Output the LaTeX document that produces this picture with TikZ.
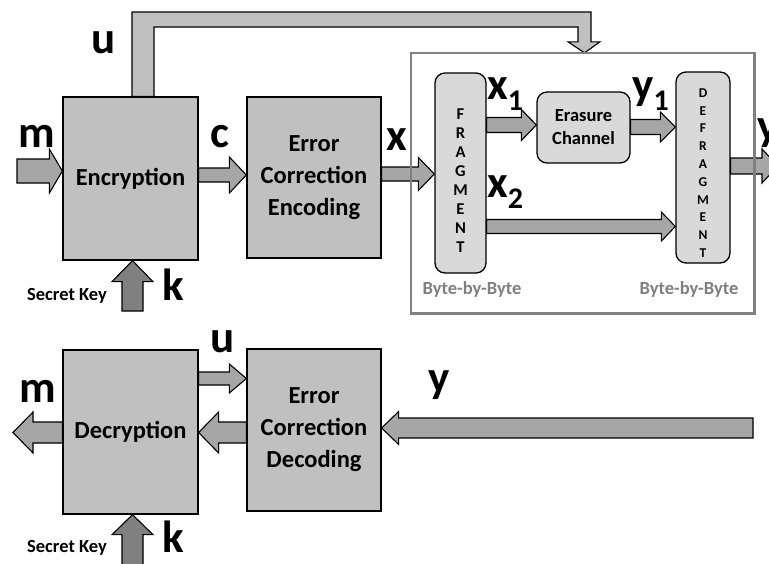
\documentclass[tikz,border=0pt]{standalone}
\usepackage{fontspec}
\setmainfont{Carlito}
\usetikzlibrary{calc}
\definecolor{boxfill}{RGB}{192,192,192}
\definecolor{arrfill}{RGB}{166,166,166}
\definecolor{keyfill}{RGB}{128,128,128}
\definecolor{rndfill}{RGB}{217,217,217}
\definecolor{frm}{RGB}{128,128,128}
% horizontal block arrow: style, from, to, y, stem half, head half, signed head length
\newcommand\harr[7]{%
 \draw[#1] let \p1=(#2), \p2=(#3) in
 (\x1,{-#4pt+#5pt}) -- ({\x2-(#7pt)},{-#4pt+#5pt}) -- ({\x2-(#7pt)},{-#4pt+#6pt}) -- (\x2,{-#4pt})
 -- ({\x2-(#7pt)},{-#4pt-#6pt}) -- ({\x2-(#7pt)},{-#4pt-#5pt}) -- (\x1,{-#4pt-#5pt}) -- cycle;}
% vertical block arrow: style, from, to, x, stem half, head half, signed head length (positive = up)
\newcommand\varr[7]{%
 \draw[#1] let \p1=(#2), \p2=(#3) in
 ({#4pt+#5pt},\y1) -- ({#4pt+#5pt},{\y2-(#7pt)}) -- ({#4pt+#6pt},{\y2-(#7pt)}) -- (#4pt,\y2)
 -- ({#4pt-#6pt},{\y2-(#7pt)}) -- ({#4pt-#5pt},{\y2-(#7pt)}) -- ({#4pt-#5pt},\y1) -- cycle;}
\newcommand\mysub[1]{{\fontsize{30}{30}\selectfont\raisebox{-11pt}{#1}}}
\begin{document}
\begin{tikzpicture}[x=1pt,y=-1pt,
  bigbox/.style={draw, line width=1.3pt, fill=boxfill, inner sep=0pt, align=center,
    font=\fontsize{24.5}{32}\selectfont\bfseries},
  rbox/.style={draw, line width=1.3pt, fill=rndfill, rounded corners=10pt, inner sep=0pt},
  blk/.style={draw, line width=1.1pt, fill=arrfill, line join=miter},
  keyarr/.style={draw, line width=1.1pt, fill=keyfill, line join=miter},
  pipe/.style={draw, line width=1.1pt, fill=boxfill, line join=miter},
  lbl/.style={font=\fontsize{45}{45}\selectfont\bfseries, inner sep=0pt, anchor=base},
  lblw/.style={font=\fontsize{45}{45}\selectfont\bfseries, inner sep=0pt, anchor=base west},
  sktxt/.style={font=\fontsize{18.5}{20}\selectfont\bfseries, inner sep=0pt, anchor=base},
  bbtxt/.style={font=\fontsize{18.5}{20}\selectfont\bfseries, text=frm, inner sep=0pt, anchor=base},
  stack/.style={align=center, inner sep=0pt}
]
\clip (0,0) rectangle (769,563);
\fill[white] (0,0) rectangle (769,563);

% main blocks
\node[bigbox, minimum width=135pt, minimum height=163pt] (enc) at (130.5,178.5) {Encryption};
\node[bigbox, minimum width=134pt, minimum height=161pt] (ece) at (314,177.5) {Error\\Correction\\Encoding};
\node[bigbox, minimum width=135pt, minimum height=164pt] (dec) at (130.5,432) {Decryption};
\node[bigbox, minimum width=134pt, minimum height=162pt] (ecd) at (314,430) {Error\\Correction\\Decoding};

% frame (outline drawn last)
\node[minimum width=343pt, minimum height=260pt, inner sep=0pt] (frame) at (582.5,183) {};

% rounded blocks
\node[rbox, minimum width=51pt, minimum height=200pt] (frag) at (460.5,173) {};
\node[rbox, minimum width=54pt, minimum height=191pt] (defrag) at (703,167.5) {};
\node[rbox, minimum width=93pt, minimum height=71pt, align=center,
  font=\fontsize{18.5}{23}\selectfont\bfseries] (erasure) at (583.5,127.5) {Erasure\\Channel};
\node[stack, font=\fontsize{16.5}{19}\selectfont\bfseries] (fragt) at (460.5,180.5) {F\\R\\A\\G\\M\\E\\N\\T};
\node[stack, font=\fontsize{13.5}{17.8}\selectfont\bfseries] (defragt) at (703,173) {D\\E\\F\\R\\A\\G\\M\\E\\N\\T};

% u pipe from Encryption to frame
\draw[pipe] let \p1=(enc.north), \p2=(frame.north) in
  (132pt,\y1) -- (132pt,-12pt) -- (591pt,-12pt) -- (591pt,{\y2+11pt}) -- (600pt,{\y2+11pt})
  -- (584.5pt,\y2) -- (568pt,{\y2+11pt}) -- (578pt,{\y2+11pt}) -- (578pt,-27pt)
  -- (154pt,-27pt) -- (154pt,\y1) -- cycle;

% arrows, top row
\coordinate (mstart) at (17,171);
\harr{blk}{mstart}{enc.west}{171}{12}{22}{13}
\harr{blk}{enc.east}{ece.west}{175}{7}{18}{17}
\harr{blk}{ece.east}{frag.west}{174}{7}{16.5}{16}
\harr{blk}{frag.east}{erasure.west}{125}{7.5}{15.5}{15}
\harr{blk}{erasure.east}{defrag.west}{127}{7.5}{15}{15}
\harr{blk}{frag.east}{defrag.west}{226.5}{7}{14.5}{14}
\coordinate (yout) at (778,166);
\harr{blk}{defrag.east}{yout}{166}{8}{17}{16}

% arrows, bottom row
\harr{blk}{dec.east}{ecd.west}{378.5}{6.5}{14.5}{17}
\coordinate (mend) at (13,432.5);
\harr{blk}{dec.west}{mend}{432.5}{10.5}{20.5}{-20}
\harr{blk}{ecd.west}{dec.east}{432.5}{10.5}{20.5}{-20}
\coordinate (yin) at (753,428);
\harr{blk}{yin}{ecd.east}{428}{10}{16.5}{-17}

% key arrows
\coordinate (k1) at (132.5,311);
\varr{keyarr}{k1}{enc.south}{132.5}{10.5}{20.5}{21}
\coordinate (k2) at (132.5,565);
\varr{keyarr}{k2}{dec.south}{132.5}{10.5}{20.5}{20}

% frame outline
\draw[frm, line width=2.6pt] (frame.south west) rectangle (frame.north east);

% labels
\node[lbl] (lm1) at (36.5,147) {m};
\node[lbl] (lc) at (220,147) {c};
\node[lbl] (lu1) at (104,53) {u};
\node[lbl] (lx) at (397,150) {x};
\node[lbl] (lk1) at (173,300) {k};
\node[lblw] (lx1) at (487,99) {x\mysub{1}};
\node[lblw] (ly1) at (632,99) {y\mysub{1}};
\node[lblw] (lx2) at (487,197) {x\mysub{2}};
\node[lblw] (ly) at (757,140) {y};
\node[lbl] (lu2) at (223,352) {u};
\node[lbl] (lm2) at (37.5,402) {m};
\node[lbl] (ly2) at (439,392) {y};
\node[lbl] (lk2) at (173,552) {k};
\node[sktxt] (sk1) at (67,300) {Secret Key};
\node[sktxt] (sk2) at (67,552) {Secret Key};
\node[bbtxt] (bb1) at (472,294) {Byte-by-Byte};
\node[bbtxt] (bb2) at (689,294) {Byte-by-Byte};
\end{tikzpicture}
\end{document}
